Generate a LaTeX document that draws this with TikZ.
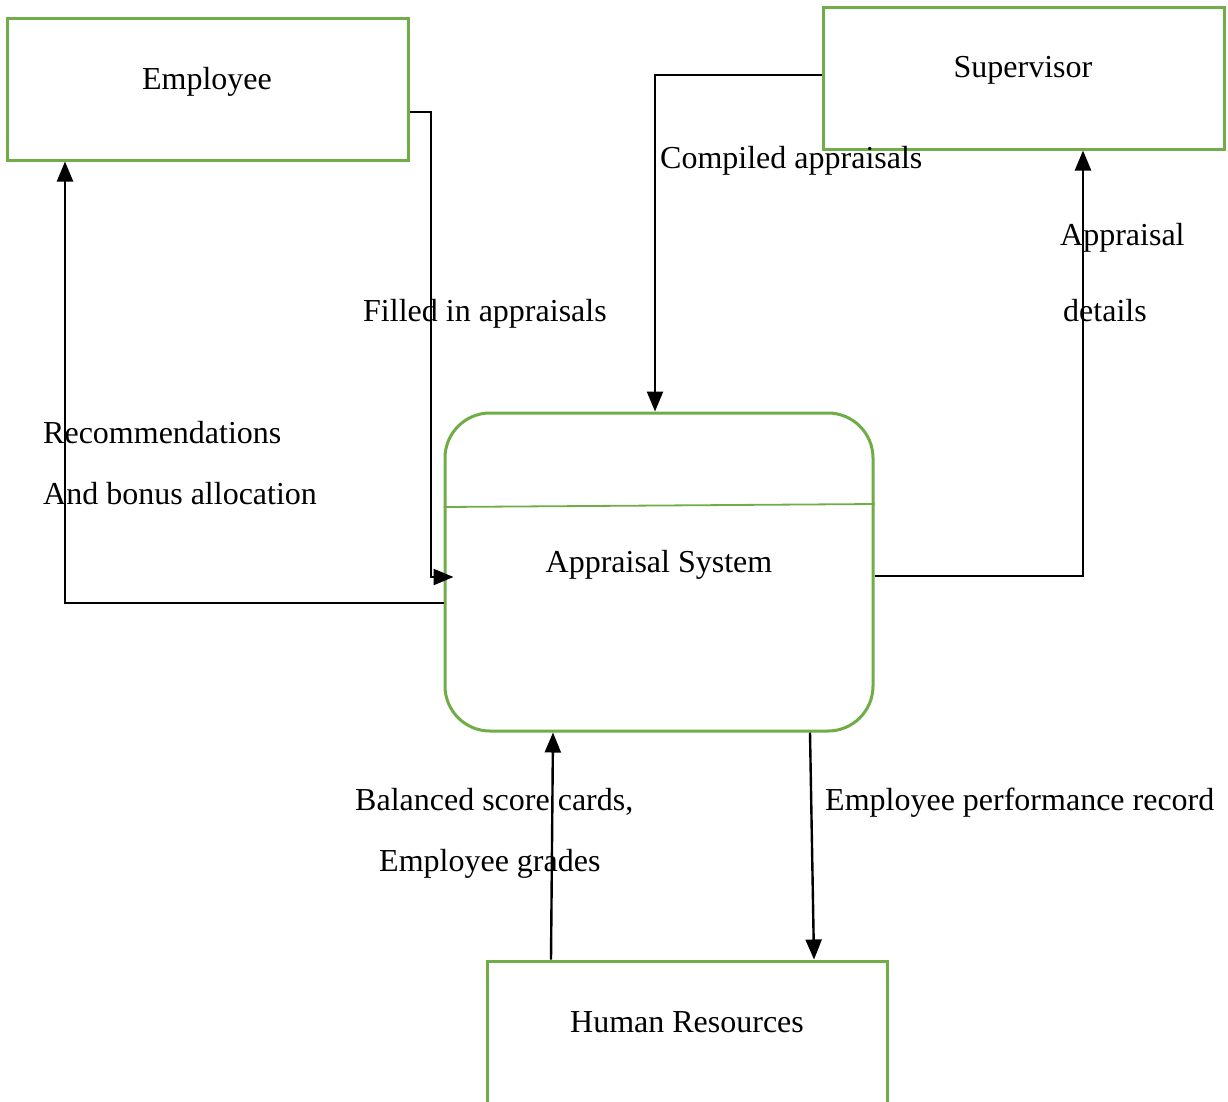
\documentclass[tikz,border=0pt]{standalone}
\usepackage{fontspec}
\setmainfont{Liberation Serif}
\usetikzlibrary{arrows.meta,calc}
\definecolor{boxgreen}{HTML}{70AD47}
\begin{document}
\begin{tikzpicture}[x=1pt,y=-1pt,
  font=\fontsize{32}{38}\selectfont,
  entity/.style={draw=boxgreen,line width=3pt,rectangle,inner sep=0pt},
  procbox/.style={draw=boxgreen,line width=3pt,rectangle,rounded corners=45pt,inner sep=0pt},
  flow/.style={draw=black,line width=2.4pt,-{Triangle[length=20pt,width=16pt]}},
  lbl/.style={anchor=base west,inner sep=0pt},
  title/.style={anchor=base,inner sep=0pt}]
\useasboundingbox (0,0) rectangle (1228,1101);
\clip (0,0) rectangle (1228,1101);
\fill[white] (0,0) rectangle (1228,1101);

% external entities and the process
\node[entity,minimum width=401pt,minimum height=142pt] (emp) at (207.5,89) {};
\node[entity,minimum width=401pt,minimum height=142pt] (sup) at (1023.5,78) {};
\node[procbox,minimum width=428pt,minimum height=318pt] (sys) at (659,572) {};
\node[entity,minimum width=400pt,minimum height=160pt] (hr) at (687,1041) {};
\draw[boxgreen,line width=1.8pt] (sys.west |- 0,507) -- (sys.east |- 0,504);

\node[title] (empt) at (207,89) {Employee};
\node[title] (supt) at (1023,77) {Supervisor};
\node[title] (syst) at (659,572) {Appraisal System};
\node[title] (hrt) at (687,1032) {Human Resources};

% data flows
\draw[flow] (emp.east |- 0,112) -| (431,577) -- ([xshift=10pt]sys.west |- 0,577);
\draw[flow] (sys.west |- 0,603) -| (emp.south -| 65,0);
\draw[flow] (sup.west |- 0,75) -| (sys.north -| 655,0);
\draw[flow] (sys.east |- 0,576) -| (sup.south -| 1083,0);
\draw[flow] (hr.north -| 551,0) -- (sys.south -| 553,0);
\draw[flow] (sys.south -| 810,0) -- (hr.north -| 814,0);

% flow labels
\node[lbl] (l1) at (660,168) {Compiled appraisals};
\node[lbl] (l2) at (363,321) {Filled in appraisals};
\node[lbl] (l3a) at (1060,245) {Appraisal};
\node[lbl] (l3b) at (1063,321) {details};
\node[lbl] (l4a) at (43,443) {Recommendations};
\node[lbl] (l4b) at (43,504) {And bonus allocation};
\node[lbl] (l5a) at (355,810) {Balanced score cards,};
\node[lbl] (l5b) at (379,871) {Employee grades};
\node[lbl] (l6) at (825,810) {Employee performance record};
\end{tikzpicture}
\end{document}
